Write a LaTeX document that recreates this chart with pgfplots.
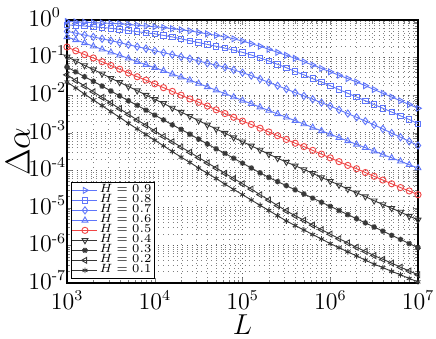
\documentclass[border=0pt]{standalone}
\usepackage{pgfplots}
\pgfplotsset{compat=1.18}
\usepackage{pgfplotstable}

\definecolor{hblue}{RGB}{95,118,250}
\definecolor{hred}{RGB}{240,70,70}
\definecolor{hgray}{RGB}{55,55,55}

\newcommand{\ex}[1]{\mbox{\fontsize{7.5}{7.5}\selectfont #1}}

% columns: L, then Delta alpha for H = 0.9 ... 0.1
\pgfplotstableread{
L        h9      h8      h7      h6      h5      h4      h3      h2      h1
1.000e3  9.12e-1 7.41e-1 5.01e-1 3.55e-1 1.91e-1 1.05e-1 5.62e-2 3.47e-2 2.24e-2
1.259e3  8.91e-1 7.24e-1 4.47e-1 2.95e-1 1.51e-1 8.13e-2 4.17e-2 2.45e-2 1.55e-2
1.585e3  8.71e-1 6.92e-1 3.98e-1 2.45e-1 1.20e-1 6.17e-2 3.09e-2 1.74e-2 1.07e-2
1.995e3  8.51e-1 6.61e-1 3.55e-1 2.00e-1 9.77e-2 4.79e-2 2.34e-2 1.23e-2 7.41e-3
2.512e3  8.32e-1 6.31e-1 3.16e-1 1.66e-1 7.76e-2 3.72e-2 1.74e-2 8.71e-3 5.25e-3
3.162e3  8.13e-1 6.03e-1 2.82e-1 1.38e-1 6.17e-2 2.82e-2 1.29e-2 6.17e-3 3.63e-3
3.981e3  7.94e-1 5.62e-1 2.51e-1 1.15e-1 4.90e-2 2.19e-2 9.55e-3 4.37e-3 2.57e-3
5.012e3  7.59e-1 5.25e-1 2.19e-1 9.55e-2 3.89e-2 1.70e-2 7.08e-3 3.09e-3 1.78e-3
6.310e3  7.24e-1 4.90e-1 1.95e-1 7.76e-2 3.09e-2 1.32e-2 5.37e-3 2.19e-3 1.26e-3
7.943e3  6.92e-1 4.57e-1 1.74e-1 6.46e-2 2.51e-2 1.00e-2 3.98e-3 1.58e-3 8.91e-4
1.000e4  6.61e-1 4.27e-1 1.51e-1 5.37e-2 2.00e-2 7.76e-3 2.95e-3 1.12e-3 6.31e-4
1.259e4  6.31e-1 3.89e-1 1.35e-1 4.47e-2 1.58e-2 6.03e-3 2.19e-3 7.94e-4 4.47e-4
1.585e4  5.89e-1 3.55e-1 1.20e-1 3.63e-2 1.26e-2 4.57e-3 1.62e-3 5.75e-4 3.16e-4
1.995e4  5.50e-1 3.16e-1 1.05e-1 3.02e-2 1.00e-2 3.55e-3 1.23e-3 4.17e-4 2.24e-4
2.512e4  5.13e-1 2.82e-1 9.33e-2 2.51e-2 7.94e-3 2.75e-3 9.12e-4 3.02e-4 1.62e-4
3.162e4  4.68e-1 2.51e-1 8.13e-2 2.04e-2 6.46e-3 2.09e-3 6.76e-4 2.19e-4 1.15e-4
3.981e4  4.27e-1 2.24e-1 7.08e-2 1.66e-2 5.13e-3 1.62e-3 5.01e-4 1.58e-4 8.32e-5
5.012e4  3.89e-1 2.00e-1 6.31e-2 1.35e-2 4.07e-3 1.26e-3 3.72e-4 1.15e-4 6.03e-5
6.310e4  3.55e-1 1.78e-1 5.50e-2 1.10e-2 3.24e-3 9.77e-4 2.82e-4 8.32e-5 4.27e-5
7.943e4  3.16e-1 1.58e-1 4.68e-2 8.91e-3 2.57e-3 7.41e-4 2.09e-4 6.03e-5 3.09e-5
1.000e5  2.75e-1 1.38e-1 3.98e-2 7.24e-3 2.04e-3 5.75e-4 1.55e-4 4.37e-5 2.24e-5
1.259e5  2.34e-1 1.17e-1 3.31e-2 5.89e-3 1.66e-3 4.47e-4 1.15e-4 3.16e-5 1.62e-5
1.585e5  2.00e-1 9.77e-2 2.69e-2 4.79e-3 1.32e-3 3.47e-4 8.51e-5 2.24e-5 1.17e-5
1.995e5  1.66e-1 8.13e-2 2.19e-2 3.89e-3 1.05e-3 2.69e-4 6.46e-5 1.62e-5 8.51e-6
2.512e5  1.38e-1 6.61e-2 1.78e-2 3.16e-3 8.32e-4 2.09e-4 5.01e-5 1.15e-5 6.17e-6
3.162e5  1.15e-1 5.37e-2 1.45e-2 2.57e-3 6.61e-4 1.66e-4 3.89e-5 8.32e-6 4.47e-6
3.981e5  9.55e-2 4.27e-2 1.17e-2 2.09e-3 5.25e-4 1.32e-4 3.02e-5 6.17e-6 3.39e-6
5.012e5  7.76e-2 3.47e-2 9.55e-3 1.70e-3 4.27e-4 1.05e-4 2.34e-5 4.68e-6 2.57e-6
6.310e5  6.31e-2 2.75e-2 7.76e-3 1.38e-3 3.39e-4 8.32e-5 1.82e-5 3.47e-6 1.95e-6
7.943e5  5.13e-2 2.24e-2 6.31e-3 1.12e-3 2.69e-4 6.46e-5 1.41e-5 2.63e-6 1.48e-6
1.000e6  4.17e-2 1.78e-2 5.13e-3 9.12e-4 2.14e-4 5.13e-5 1.10e-5 2.00e-6 1.12e-6
1.259e6  3.39e-2 1.41e-2 4.07e-3 7.41e-4 1.70e-4 4.07e-5 8.51e-6 1.51e-6 8.71e-7
1.585e6  2.75e-2 1.12e-2 3.24e-3 6.03e-4 1.35e-4 3.16e-5 6.61e-6 1.17e-6 6.76e-7
1.995e6  2.24e-2 8.91e-3 2.57e-3 4.90e-4 1.10e-4 2.51e-5 5.13e-6 8.91e-7 5.25e-7
2.512e6  1.78e-2 7.08e-3 2.04e-3 3.98e-4 8.71e-5 2.00e-5 3.98e-6 6.92e-7 4.07e-7
3.162e6  1.41e-2 5.62e-3 1.62e-3 3.24e-4 6.92e-5 1.55e-5 3.09e-6 5.37e-7 3.16e-7
3.981e6  1.12e-2 4.47e-3 1.26e-3 2.63e-4 5.50e-5 1.23e-5 2.40e-6 4.27e-7 2.57e-7
5.012e6  8.91e-3 3.55e-3 9.77e-4 2.14e-4 4.37e-5 9.77e-6 1.86e-6 3.39e-7 2.04e-7
6.310e6  7.08e-3 2.82e-3 7.59e-4 1.74e-4 3.47e-5 7.76e-6 1.45e-6 2.63e-7 1.66e-7
7.943e6  5.62e-3 2.24e-3 5.89e-4 1.41e-4 2.82e-5 6.03e-6 1.12e-6 2.09e-7 1.32e-7
1.000e7  4.47e-3 1.74e-3 4.57e-4 1.15e-4 2.24e-5 4.79e-6 8.71e-7 1.66e-7 1.07e-7
}\dalpha

\begin{document}
\begin{tikzpicture}
\begin{axis}[
  at={(33.5pt,28pt)}, anchor=south west,
  scale only axis, width=175.5pt, height=131.5pt,
  xmode=log, ymode=log,
  xmin=1e3, xmax=1e7, ymin=1e-7, ymax=1,
  xtick={1e3,1e4,1e5,1e6,1e7},
  xticklabels={$10^{\ex{3}}$,$10^{\ex{4}}$,$10^{\ex{5}}$,$10^{\ex{6}}$,$10^{\ex{7}}$},
  ytick={1e-7,1e-6,1e-5,1e-4,1e-3,1e-2,1e-1,1},
  yticklabels={$10^{\ex{-7}}$,$10^{\ex{-6}}$,$10^{\ex{-5}}$,$10^{\ex{-4}}$,
               $10^{\ex{-3}}$,$10^{\ex{-2}}$,$10^{\ex{-1}}$,$10^{\ex{0}}$},
  grid=both,
  major grid style={dotted, black!65},
  minor grid style={dotted, black!50},
  tick align=inside,
  major tick length=2.5pt, minor tick length=1.3pt,
  axis line style={line width=0.6pt},
  tick label style={font=\fontsize{12}{14}\selectfont},
  yticklabel style={anchor=west, inner sep=0pt, xshift=-19.5pt, yshift=1.5pt},
  xticklabel style={inner sep=0pt, yshift=-3.5pt},
  clip mode=individual,
  legend cell align=left,
  legend style={at={(0.01,0.015)}, anchor=south west,
    font=\fontsize{6.5}{6.5}\selectfont, draw=black, line width=0.5pt,
    inner sep=0.5pt, row sep=-2.2pt, nodes={inner sep=0.8pt}},
  legend image code/.code={
    \draw[mark repeat=2, mark phase=2] plot coordinates {(0cm,0cm) (0.22cm,0cm) (0.44cm,0cm)};},
  every axis plot/.append style={line width=0.45pt, mark size=1.7pt},
]
  \addplot[hblue, mark=triangle, mark options={solid, rotate=-90}] table[x=L, y=h9] {\dalpha};
  \addlegendentry{$H=0.9$}
  \addplot[hblue, mark=square, mark size=1.35pt] table[x=L, y=h8] {\dalpha};
  \addlegendentry{$H=0.8$}
  \addplot[hblue, mark=diamond, mark size=1.8pt] table[x=L, y=h7] {\dalpha};
  \addlegendentry{$H=0.7$}
  \addplot[hblue, mark=triangle] table[x=L, y=h6] {\dalpha};
  \addlegendentry{$H=0.6$}
  \addplot[hred, mark=o, mark size=1.55pt] table[x=L, y=h5] {\dalpha};
  \addlegendentry{$H=0.5$}
  \addplot[hgray, mark=triangle, mark options={solid, rotate=180}] table[x=L, y=h4] {\dalpha};
  \addlegendentry{$H=0.4$}
  \addplot[hgray, mark=10-pointed star, mark size=1.4pt] table[x=L, y=h3] {\dalpha};
  \addlegendentry{$H=0.3$}
  \addplot[hgray, mark=triangle, mark options={solid, rotate=90}] table[x=L, y=h2] {\dalpha};
  \addlegendentry{$H=0.2$}
  \addplot[hgray, mark=asterisk, mark size=1.4pt] table[x=L, y=h1] {\dalpha};
  \addlegendentry{$H=0.1$}
  \node[font=\fontsize{16}{18}\selectfont, rotate=90, inner sep=0pt] at (rel axis cs:-0.14,0.5) {$\Delta\alpha$};
  \node[font=\fontsize{15}{17}\selectfont, inner sep=0pt] at (rel axis cs:0.5,-0.158) {$L$};
\end{axis}
\pgfresetboundingbox
\path (0,0) rectangle (218pt,169.5pt);
\end{tikzpicture}
\end{document}
